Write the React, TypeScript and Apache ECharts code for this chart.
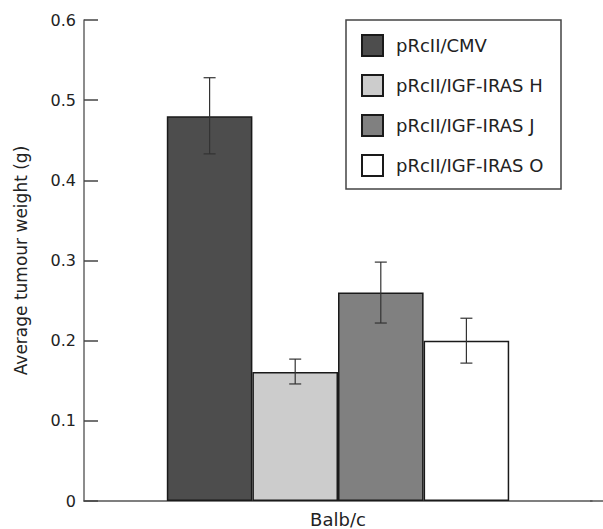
import React, { useEffect, useRef } from "react";
import * as echarts from "echarts";

const categories = ["Balb/c"];
const seriesNames = ["pRcII/CMV", "pRcII/IGF-IRAS H", "pRcII/IGF-IRAS J", "pRcII/IGF-IRAS O"];
const means = [0.48, 0.161, 0.26, 0.2];
const errLow = [0.433, 0.146, 0.222, 0.172];
const errHigh = [0.528, 0.177, 0.298, 0.228];
const colors = ["#4d4d4d", "#cccccc", "#808080", "#ffffff"];
const yTicks = [0, 0.1, 0.2, 0.3, 0.4, 0.5, 0.6];

const FONT = "'DejaVu Sans', sans-serif";
const CAT_GAP = 0.326;

export default function App() {
  const ref = useRef<HTMLDivElement>(null);
  useEffect(() => {
    if (!ref.current) return;
    const chart = echarts.init(ref.current, undefined, { renderer: "svg" });
    const barSeries = seriesNames.map((name, i) => ({
      name,
      type: "bar",
      data: [means[i]],
      barGap: "0%",
      barCategoryGap: (CAT_GAP * 100).toFixed(1) + "%",
      itemStyle: { color: colors[i], borderColor: "#1a1a1a", borderWidth: 1.5 },
      emphasis: { disabled: true },
    }));
    const errData = seriesNames.map((_, i) => [0, errLow[i], errHigh[i], i]);
    const option: any = {
      animation: false,
      backgroundColor: "#ffffff",
      grid: { left: 84, right: 11, top: 20, bottom: 28, containLabel: false },
      legend: {
        orient: "vertical",
        left: 361,
        top: 34,
        padding: 0,
        itemWidth: 21,
        itemHeight: 21,
        itemGap: 17,
        icon: "rect",
        selectedMode: false,
        data: seriesNames,
        textStyle: { fontFamily: FONT, fontSize: 18, lineHeight: 21, color: "#222", padding: [0, 0, 0, 8] },
      },
      xAxis: {
        type: "category",
        data: categories,
        axisLine: { show: true, lineStyle: { color: "#555", width: 1.5 } },
        axisTick: { show: false },
        axisLabel: { fontFamily: FONT, fontSize: 18, color: "#222", margin: 9 },
        splitLine: { show: false },
      },
      yAxis: {
        type: "value",
        min: yTicks[0],
        max: yTicks[yTicks.length - 1],
        interval: 0.1,
        name: "Average tumour weight (g)",
        nameLocation: "middle",
        nameGap: 55,
        nameTextStyle: { fontFamily: FONT, fontSize: 17, color: "#222" },
        axisLine: { show: true, lineStyle: { color: "#666", width: 1.5 } },
        axisTick: { show: true, inside: true, length: 14, lineStyle: { color: "#444", width: 1.5 } },
        axisLabel: {
          fontFamily: FONT,
          fontSize: 16,
          color: "#222",
          margin: 8,
          formatter: (v: number) => (v === 0 ? "0" : v.toFixed(1)),
        },
        splitLine: { show: false },
      },
      graphic: [
        {
          type: "rect",
          shape: { x: 346, y: 20, width: 215, height: 169 },
          style: { fill: "none", stroke: "#444", lineWidth: 1.5 },
          z: 100,
        },
        {
          type: "line",
          shape: { x1: 590, y1: 501, x2: 603, y2: 501 },
          style: { stroke: "#555", lineWidth: 1.5 },
        },
      ],
      series: [
        ...barSeries,
        {
          type: "custom",
          name: "err",
          data: errData,
          encode: { x: 0, y: [1, 2] },
          z: 10,
          renderItem: (params: any, api: any) => {
            const band = api.size([1, 0])[0];
            const bw = (band * (1 - CAT_GAP)) / 4;
            const idx = api.value(3);
            const top = api.coord([api.value(0), api.value(2)]);
            const bot = api.coord([api.value(0), api.value(1)]);
            const x = top[0] + (idx - 1.5) * bw;
            const cap = 6;
            const style = { stroke: "#333", lineWidth: 1.2 };
            return {
              type: "group",
              children: [
                { type: "line", shape: { x1: x, y1: top[1], x2: x, y2: bot[1] }, style },
                { type: "line", shape: { x1: x - cap, y1: top[1], x2: x + cap, y2: top[1] }, style },
                { type: "line", shape: { x1: x - cap, y1: bot[1], x2: x + cap, y2: bot[1] }, style },
              ],
            };
          },
        },
      ],
    };
    chart.setOption(option);
    return () => chart.dispose();
  }, []);
  return <div ref={ref} style={{ width: 603, height: 529, position: "absolute", left: 0, top: 0 }} />;
}
